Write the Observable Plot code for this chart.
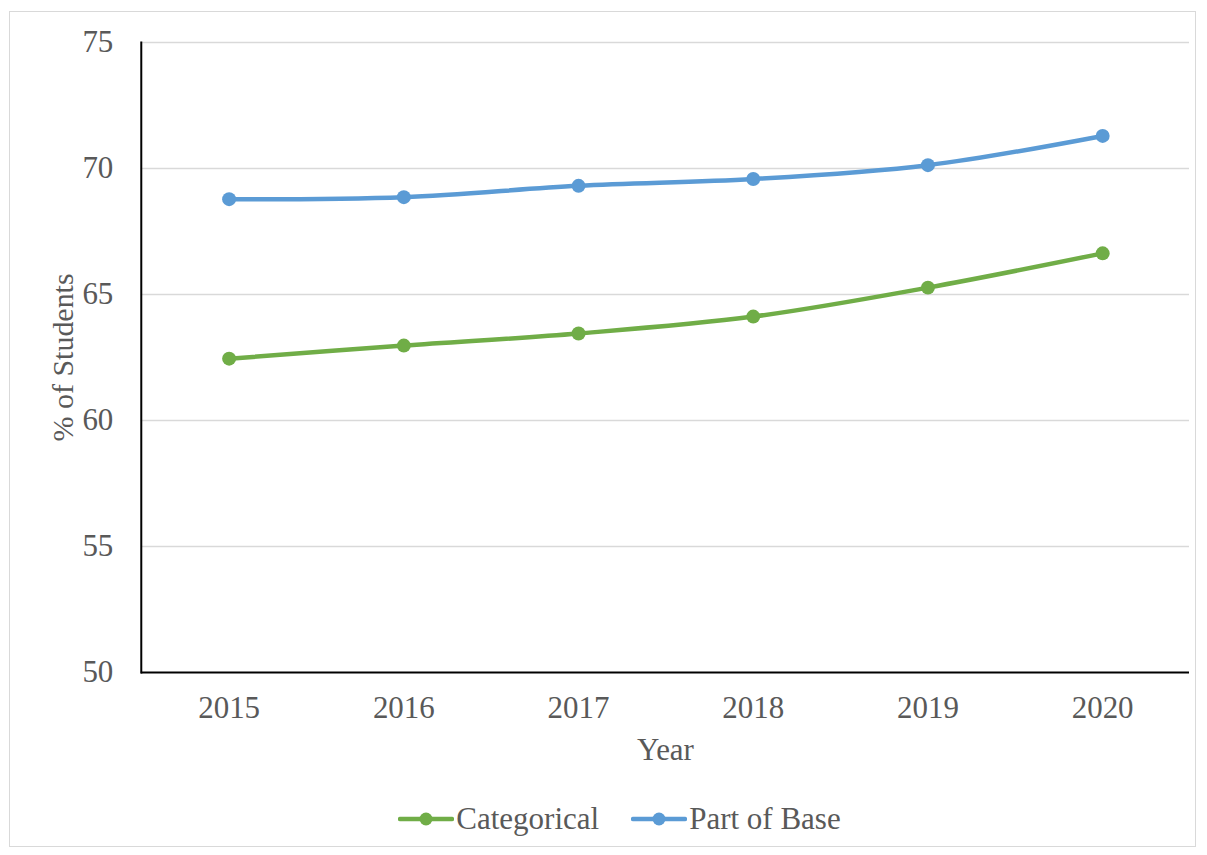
<!DOCTYPE html>
<html><head><meta charset="utf-8">
<script src="https://cdn.jsdelivr.net/npm/d3@7"></script>
<script src="https://cdn.jsdelivr.net/npm/@observablehq/plot@0.6"></script>
<style>
body{margin:0;background:#fff;font-family:"Liberation Serif","Times New Roman",serif;}
#box{position:absolute;left:9px;top:11px;width:1187px;height:836px;border:1.5px solid #d9d9d9;box-sizing:border-box;}
#chart{position:absolute;left:0;top:0;}
#legend{position:absolute;left:0;top:789px;width:100%;display:flex;justify-content:center;gap:32px;color:#595959;font-size:31px;padding-left:34px;box-sizing:border-box;}
.item{display:flex;align-items:center;}
.item svg{margin-right:2px;}
</style></head>
<body>
<div id="box"><div id="chart"></div><div id="legend"></div></div>
<script>
const years = ["2015","2016","2017","2018","2019","2020"];
const categorical = [62.45, 62.97, 63.45, 64.12, 65.27, 66.63];
const partOfBase = [68.78, 68.86, 69.31, 69.58, 70.13, 71.29];
const seriesNames = ["Categorical","Part of Base"];
const seriesColors = ["#70ad47","#5b9bd5"];
const yTicks = [50,55,60,65,70,75];

const data = [];
years.forEach((y,i)=>{
  data.push({year:y, value:categorical[i], series:seriesNames[0]});
  data.push({year:y, value:partOfBase[i], series:seriesNames[1]});
});

const plot = Plot.plot({
  width: 1187, height: 760,
  marginLeft: 131, marginRight: 6, marginTop: 30, marginBottom: 99,
  style: {fontFamily: '"Liberation Serif","Times New Roman",serif', fontSize: "31px", color: "#595959", background: "transparent"},
  x: {type: "point", domain: years, padding: 0.5, label: null},
  y: {domain: [50, 75], label: null},
  color: {domain: seriesNames, range: seriesColors},
  marks: [
    Plot.gridY(yTicks.filter(t => t > 50), {stroke: "#d9d9d9", strokeOpacity: 1, strokeWidth: 1.5}),
    Plot.axisY(yTicks, {tickSize: 0, tickPadding: 28, fill: "#595959", label: null, fontSize: 31}),
    Plot.axisX(years, {tickSize: 0, tickPadding: 24, fill: "#595959", label: null, fontSize: 31}),
    Plot.text(["Year"], {frameAnchor: "bottom", dy: 88, fill: "#595959", fontSize: 31}),
    Plot.text(["% of Students"], {frameAnchor: "left", dx: -78, rotate: -90, textAnchor: "middle", fill: "#595959", fontSize: 30}),
    Plot.ruleY([50], {stroke: "black", strokeWidth: 2}),
    Plot.frame({anchor: "left", stroke: "black", strokeWidth: 2}),
    Plot.line(data, {x: "year", y: "value", z: "series", stroke: "series", strokeWidth: 4.5, curve: "catmull-rom"}),
    Plot.dot(data, {x: "year", y: "value", fill: "series", r: 7})
  ]
});
document.getElementById("chart").appendChild(plot);

const legend = document.getElementById("legend");
seriesNames.forEach((n,i)=>{
  const d = document.createElement("div");
  d.className = "item";
  d.innerHTML = `<svg width="56" height="20"><line x1="2" y1="10" x2="54" y2="10" stroke="${seriesColors[i]}" stroke-width="4.5" stroke-linecap="round"/><circle cx="28" cy="10" r="6.5" fill="${seriesColors[i]}"/></svg><span>${n}</span>`;
  legend.appendChild(d);
});
</script>
</body></html>
